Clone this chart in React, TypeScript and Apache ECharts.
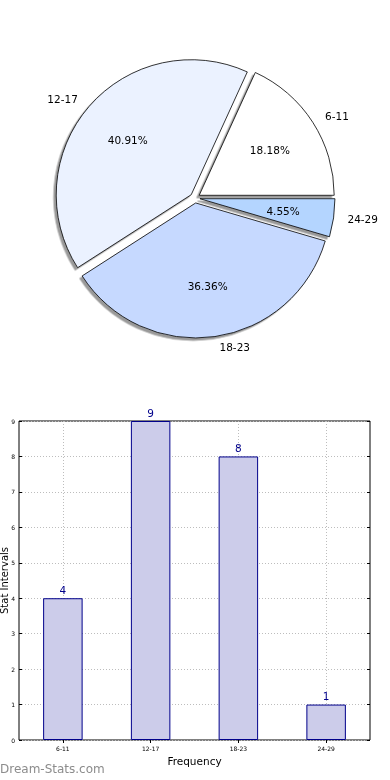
import React, { useEffect, useRef } from 'react';
import * as echarts from 'echarts';

const categories = ['6-11', '12-17', '18-23', '24-29'];
const counts = [4, 9, 8, 1];
const sliceColors = ['#ffffff', '#ebf2ff', '#c6d9ff', '#b4d5ff'];
const yMin = 0;
const yMax = 9;
const yStep = 1;

export default function App() {
  const ref = useRef<HTMLDivElement>(null);
  useEffect(() => {
    document.body.style.margin = '0';
    const chart = echarts.init(ref.current!, null, { renderer: 'svg' });
    const R = 135;
    const font = 'DejaVu Sans';
    const pieData = categories.map((c, i) => ({
      name: c,
      value: counts[i],
      selected: true,
      itemStyle: { color: sliceColors[i] },
    }));
    const pctData = categories.map((c, i) => ({ name: c, value: counts[i], selected: true }));
    const tickAxisCommon = {
      axisLine: { show: false },
      axisTick: { show: true, inside: true, length: 3, lineStyle: { color: '#000', width: 1 } },
    };
    const gridLine = { color: '#bdbdbd', type: [1, 2], width: 1 };
    chart.setOption({
      animation: false,
      textStyle: { fontFamily: font },
      grid: {
        left: 19,
        right: 20,
        top: 421,
        bottom: 40,
        show: true,
        borderColor: '#000',
        borderWidth: 1,
        backgroundColor: 'transparent',
        containLabel: false,
        outerBoundsMode: 'none',
      },
      xAxis: [
        {
          type: 'category',
          data: categories,
          boundaryGap: true,
          position: 'bottom',
          ...tickAxisCommon,
          axisTick: { show: true, inside: true, length: 3, alignWithLabel: true, lineStyle: { color: '#000' } },
          axisLabel: { fontSize: 6, color: '#000', margin: 5 },
          splitLine: { show: true, alignWithLabel: true, lineStyle: gridLine },
          name: 'Frequency',
          nameLocation: 'middle',
          nameGap: 15,
          nameMoveOverlap: false,
          nameTextStyle: { fontSize: 10.5, color: '#000' },
        },
        {
          type: 'category',
          data: categories,
          boundaryGap: true,
          position: 'top',
          axisLine: { show: false },
          axisTick: { show: true, inside: true, length: 3, alignWithLabel: true, lineStyle: { color: '#000' } },
          axisLabel: { show: false },
          splitLine: { show: false },
        },
      ],
      yAxis: [
        {
          type: 'value',
          min: yMin,
          max: yMax,
          interval: yStep,
          position: 'left',
          ...tickAxisCommon,
          axisLabel: { fontSize: 6, color: '#000', margin: 4 },
          splitLine: { show: true, lineStyle: gridLine },
          name: 'Stat Intervals',
          nameLocation: 'middle',
          nameGap: 9.5,
          nameMoveOverlap: false,
          nameTextStyle: { fontSize: 10, color: '#000' },
        },
        {
          type: 'value',
          min: yMin,
          max: yMax,
          interval: yStep,
          position: 'right',
          ...tickAxisCommon,
          axisLabel: { show: false },
          splitLine: { show: false },
        },
      ],
      series: [
        {
          type: 'pie',
          center: [195, 198],
          radius: [0, R],
          startAngle: 0,
          clockwise: false,
          selectedMode: 'multiple',
          selectedOffset: 5,
          avoidLabelOverlap: false,
          silent: true,
          emphasis: { disabled: true },
          itemStyle: {
            borderColor: '#000',
            borderWidth: 0.8,
            shadowColor: 'rgba(0,0,0,0.4)',
            shadowBlur: 0,
            shadowOffsetX: -2.5,
            shadowOffsetY: 2.5,
          },
          label: {
            show: true,
            position: 'outside',
            formatter: '{b}',
            fontSize: 10.5,
            color: '#000',
            distanceToLabelLine: 3,
          },
          labelLine: { show: false, length: 11, length2: 0 },
          data: pieData,
        },
        {
          type: 'pie',
          center: [195, 198],
          radius: [R * 0.2, R],
          startAngle: 0,
          clockwise: false,
          selectedMode: 'multiple',
          selectedOffset: 5,
          avoidLabelOverlap: false,
          silent: true,
          emphasis: { disabled: true },
          itemStyle: { color: 'transparent', borderWidth: 0 },
          label: {
            show: true,
            position: 'inside',
            formatter: '{d}%',
            fontSize: 10.5,
            color: '#000',
          },
          labelLine: { show: false },
          data: pctData,
        },
        {
          type: 'bar',
          xAxisIndex: 0,
          yAxisIndex: 0,
          data: counts,
          barWidth: '45%',
          itemStyle: { color: '#ccccea', borderColor: '#00008b', borderWidth: 1 },
          label: { show: true, position: 'top', distance: 3, color: '#00008b', fontSize: 10.5 },
        },
      ],
      graphic: [
        {
          type: 'text',
          left: 0,
          top: 763,
          silent: true,
          style: { text: 'Dream-Stats.com', fill: '#8c8c8c', fontSize: 12, fontFamily: font },
        },
      ],
    });
    return () => chart.dispose();
  }, []);
  return <div ref={ref} style={{ position: 'fixed', left: 0, top: 0, width: 390, height: 780 }} />;
}
